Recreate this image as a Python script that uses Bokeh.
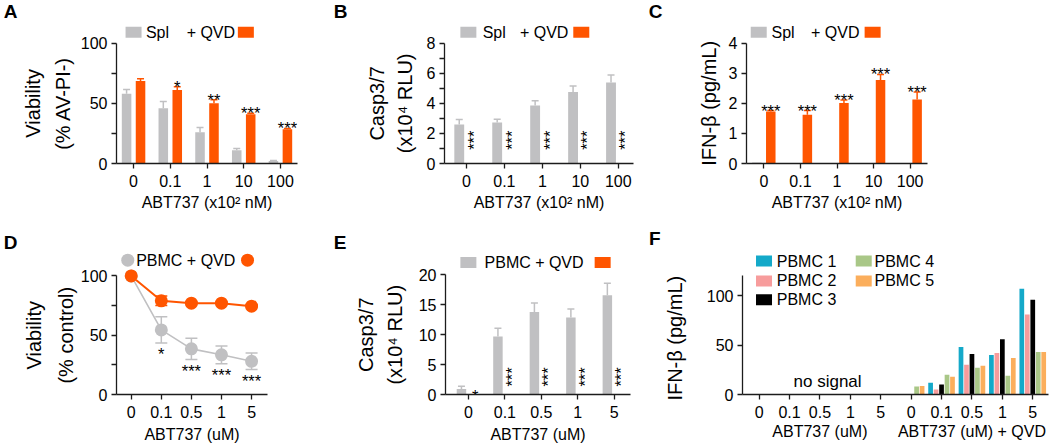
import math
from bokeh.plotting import figure
from bokeh.models import (Range1d, FixedTicker, Whisker, TeeHead, ColumnDataSource, LinearAxis,
                          CustomJSTickFormatter)
from bokeh.layouts import row, column
from bokeh.embed import file_html
from bokeh.resources import INLINE
from bokeh.core.properties import value

FONT = "Liberation Sans"
GRAY = "#C0C0C2"
ORANGE = "#FF5500"
AXIS = "#1c1c1c"

# ---------------- data ----------------
spl_doses = ["0", "0.1", "1", "10", "100"]
pbmc_doses = ["0", "0.1", "0.5", "1", "5"]

# A: splenocyte viability (% AV-PI-)
spl_viability = [58, 46, 26, 11, 2]
spl_viability_err = [3.5, 5.5, 4, 1.5, 0.5]
spl_qvd_viability = [68.5, 61, 50, 41, 28.5]
spl_qvd_viability_err = [2, 2.7, 3, 0.8, 0.6]
stars_a = ["", "*", "**", "***", "***"]

# B: splenocyte Casp3/7 (x10^4 RLU)
spl_casp = [2.6, 2.72, 3.85, 4.75, 5.38]
spl_casp_err = [0.33, 0.22, 0.33, 0.4, 0.5]
spl_qvd_casp = [0.04, 0.04, 0.04, 0.04, 0.04]
stars_b = ["***", "***", "***", "***", "***"]

# C: splenocyte IFN-beta (pg/mL)
spl_ifn = [0.03, 0, 0, 0, 0]
spl_qvd_ifn = [1.73, 1.62, 2.01, 2.78, 2.13]
spl_qvd_ifn_err = [0.03, 0.14, 0.1, 0.18, 0.25]
stars_c = ["***", "***", "***", "***", "***"]

# D: PBMC viability (% control)
pbmc_viability = [100, 54.5, 38.5, 33.5, 28]
pbmc_viability_err = [0, 11, 9, 7.5, 7]
pbmc_qvd_viability = [100, 79, 77, 77, 74.5]
pbmc_qvd_viability_err = [0, 4, 1, 1, 1]
stars_d = ["", "*", "***", "***", "***"]

# E: PBMC Casp3/7 (x10^4 RLU)
pbmc_casp = [0.9, 9.7, 13.8, 12.9, 16.6]
pbmc_casp_err = [0.5, 1.4, 1.5, 1.4, 2.0]
pbmc_qvd_casp = [0.08, 0.08, 0.08, 0.08, 0.08]
stars_e = ["*", "***", "***", "***", "***"]

# F: IFN-beta per donor
f_tick_labels = ["0", "0.1", "0.5", "1", "5", "0", "0.1", "0.5", "1", "5"]
f_groups = ["ABT737 (uM)", "ABT737 (uM) + QVD"]
pbmc_names = ["PBMC 1", "PBMC 2", "PBMC 3", "PBMC 4", "PBMC 5"]
pbmc1_ifn = [0, 0, 0, 0, 0, 0, 12, 48, 40, 107]
pbmc2_ifn = [0, 0, 0, 0, 0, 0, 5, 30, 42, 81]
pbmc3_ifn = [0, 0, 0, 0, 0, 0, 10, 41, 56, 96]
pbmc4_ifn = [0, 0, 0, 0, 0, 8, 20, 27, 19, 43]
pbmc5_ifn = [0, 0, 0, 0, 0, 8.5, 18, 29, 37, 43]
pbmc_colors = ["#14A9C9", "#F79C9C", "#000000", "#A9C787", "#FBAE5C"]


# ---------------- helpers ----------------
class Geo:
    def __init__(self, w, h, fl, fr, ft, fb, tick0, sp, ppu):
        self.w, self.h, self.fl, self.fr, self.ft, self.fb = w, h, fl, fr, ft, fb
        self.tick0, self.sp, self.ppu = tick0, sp, ppu
        self.xs = (fl - tick0) / sp
        self.xe = (fr - tick0) / sp
        self.ye = (fb - ft) / ppu

    def x(self, lx):
        return self.xs + (lx - self.fl) / self.sp

    def y(self, ly):
        return (self.fb - ly) / self.ppu


def make_fig(g):
    p = figure(width=g.w, height=g.h, x_range=Range1d(g.xs, g.xe), y_range=Range1d(0, g.ye),
               output_backend="svg", toolbar_location=None, title=None,
               min_border_left=g.fl, min_border_right=g.w - g.fr,
               min_border_top=g.ft, min_border_bottom=g.h - g.fb)
    p.outline_line_color = None
    p.grid.visible = False
    p.background_fill_color = "white"
    p.border_fill_color = "white"
    return p


def style_axes(p, yticks, yminor, ybound, xlabels, xlabel, xlab_standoff):
    ya = p.yaxis[0]
    xa = p.xaxis[0]
    for ax in (ya, xa):
        ax.axis_line_color = AXIS
        ax.axis_line_width = 1.3
        ax.major_tick_line_color = AXIS
        ax.major_tick_line_width = 1.3
        ax.minor_tick_line_color = AXIS
        ax.minor_tick_line_width = 1.3
        ax.major_tick_in = 0
        ax.major_tick_out = 5
        ax.minor_tick_in = 0
        ax.minor_tick_out = 5
        ax.major_label_text_font = FONT
        ax.major_label_text_font_size = "16px"
        ax.major_label_text_color = "black"
        ax.axis_label_text_font = FONT
        ax.axis_label_text_font_style = "normal"
        ax.axis_label_text_color = "black"
    ya.major_label_standoff = 4
    xa.major_label_standoff = 6
    ya.ticker = FixedTicker(ticks=yticks, minor_ticks=yminor)
    ya.bounds = ybound
    n = len(xlabels)
    xa.ticker = FixedTicker(ticks=list(range(n)), minor_ticks=[])
    xa.major_label_overrides = {i: xlabels[i] for i in range(n)}
    if xlabel:
        xa.axis_label = xlabel
        xa.axis_label_text_font_size = "16px"
        xa.axis_label_standoff = xlab_standoff


def text_axis(p, at, text, standoff, size="20px", bold=False):
    """An unlined left axis with one tick whose label is a title text (y label line or panel letter)."""
    ax = LinearAxis(ticker=FixedTicker(ticks=[at], minor_ticks=[]),
                    formatter=CustomJSTickFormatter(code="return %r;" % text),
                    axis_line_color=None, major_tick_line_color=None, minor_tick_line_color=None,
                    major_tick_out=0, major_tick_in=0, minor_tick_out=0, minor_tick_in=0,
                    major_label_standoff=standoff, major_label_text_font=FONT,
                    major_label_text_font_size=size, major_label_text_color="black")
    if bold:
        ax.major_label_text_font_style = "bold"
    else:
        ax.major_label_orientation = "parallel"
    p.add_layout(ax, "left")


def legend_items(p, g, ly, items):
    y = g.y(ly)
    for kind, lx, val in items:
        if kind == "sq":
            p.rect(x=[g.x(lx)], y=[y], width=16, height=11, width_units="screen",
                   height_units="screen", fill_color=val, line_color=None)
        elif kind == "dot":
            p.scatter(x=[g.x(lx)], y=[y], size=13, fill_color=val, line_color=None)
        else:
            p.text(x=[g.x(lx)], y=[y], text=[val], text_font=value(FONT), text_font_size="16px",
                   text_baseline="middle", text_align="left", text_color="black")


def whiskers(p, xs, lo, hi, color, size, lower=False, level=None):
    keep = [i for i in range(len(xs)) if hi[i] > lo[i]]
    src = ColumnDataSource(dict(x=[xs[i] for i in keep], lo=[lo[i] for i in keep],
                                hi=[hi[i] for i in keep]))
    kw = {}
    if level:
        kw["level"] = level
    w = Whisker(base="x", lower="lo", upper="hi", source=src, dimension="height",
                line_color=color, line_width=1.5,
                upper_head=TeeHead(size=size, line_color=color, line_width=1.5),
                lower_head=TeeHead(size=size, line_color=color, line_width=1.5) if lower else None,
                **kw)
    p.add_layout(w)


OFF = 0.19
BW = 0.26


def bars(p, gray_vals, gray_err, orange_vals, orange_err):
    n = len(gray_vals)
    xg = [i - OFF for i in range(n)]
    xo = [i + OFF for i in range(n)]
    p.vbar(x=xg, top=gray_vals, width=BW, fill_color=GRAY, line_color=None)
    p.vbar(x=xo, top=orange_vals, width=BW, fill_color=ORANGE, line_color=None)
    if gray_err:
        whiskers(p, xg, gray_vals, [v + e for v, e in zip(gray_vals, gray_err)], GRAY, 7)
    if orange_err:
        whiskers(p, xo, orange_vals, [v + e for v, e in zip(orange_vals, orange_err)], ORANGE, 7)
    return xg, xo


STAR_KW = dict(text_font=value(FONT), text_font_size="16.5px", text_color="black")

# ---------------- Row 1 ----------------
# A
gA = Geo(330, 215, 106, 297, 3, 163, 124, 38.75, 1.203)
pA = make_fig(gA)
xg, xo = bars(pA, spl_viability, spl_viability_err, spl_qvd_viability, spl_qvd_viability_err)
pA.text(x=xo, y=[v + e for v, e in zip(spl_qvd_viability, spl_qvd_viability_err)], text=stars_a,
        text_align="center", text_baseline="alphabetic", **STAR_KW)
style_axes(pA, [0, 50, 100], [25, 75], (0, 100), spl_doses, "ABT737 (x10\u00b2 nM)", 4)
text_axis(pA, 50, "(% AV-PI-)", 3)
text_axis(pA, 50, "Viability", 5)
text_axis(pA, gA.y(10.9), "A", 2, size="19px", bold=True)
legend_items(pA, gA, 31.7, [("sq", 124, GRAY), ("t", 137, "Spl"), ("t", 180, "+ QVD"),
                            ("sq", 242.5, ORANGE)])

# B
gB = Geo(315, 215, 105, 303, 3, 163, 128, 39.75, 15.04)
pB = make_fig(gB)
xg, xo = bars(pB, spl_casp, spl_casp_err, spl_qvd_casp, None)
pB.text(x=xo, y=[gB.y(149.3)] * 5, text=stars_b, angle=math.pi / 2, text_align="left",
        text_baseline="middle", **STAR_KW)
style_axes(pB, [0, 2, 4, 6, 8], [1, 3, 5, 7], (0, 8), spl_doses, "ABT737 (x10\u00b2 nM)", 4)
text_axis(pB, 4, "(x10\u2074 RLU)", 7)
text_axis(pB, 4, "Casp3/7", 3)
text_axis(pB, gB.y(10.9), "B", 16, size="19px", bold=True)
legend_items(pB, gB, 31.7, [("sq", 130, GRAY), ("t", 145, "Spl"), ("t", 184, "+ QVD"),
                            ("sq", 248.3, ORANGE)])

# C
gC = Geo(405, 215, 94, 282, 3, 163, 112, 38.0, 30.08)
pC = make_fig(gC)
xg, xo = bars(pC, spl_ifn, None, spl_qvd_ifn, spl_qvd_ifn_err)
pC.text(x=xo, y=[v + e for v, e in zip(spl_qvd_ifn, spl_qvd_ifn_err)], text=stars_c,
        text_align="center", text_baseline="alphabetic", **STAR_KW)
style_axes(pC, [0, 1, 2, 3, 4], [], (0, 4), spl_doses, "ABT737 (x10\u00b2 nM)", 4)
text_axis(pC, 2, "IFN-\u03b2 (pg/mL)", 5)
text_axis(pC, gC.y(10.9), "C", 33, size="19px", bold=True)
legend_items(pC, gC, 31.7, [("sq", 106.7, GRAY), ("t", 120, "Spl"), ("t", 161, "+ QVD"),
                            ("sq", 225, ORANGE)])

# ---------------- Row 2 ----------------
# D
gD = Geo(330, 230, 106, 267, 14, 181, 121.7, 32.08, 1.20)
pD = make_fig(gD)
xi = list(range(len(pbmc_doses)))
whiskers(pD, xi, [v - e for v, e in zip(pbmc_viability, pbmc_viability_err)],
         [v + e for v, e in zip(pbmc_viability, pbmc_viability_err)], GRAY, 12, lower=True,
         level="underlay")
whiskers(pD, xi, [v - e for v, e in zip(pbmc_qvd_viability, pbmc_qvd_viability_err)],
         [v + e for v, e in zip(pbmc_qvd_viability, pbmc_qvd_viability_err)], ORANGE, 12,
         lower=True, level="underlay")
pD.line(xi, pbmc_viability, line_color=GRAY, line_width=1.6)
pD.line(xi, pbmc_qvd_viability, line_color=ORANGE, line_width=2)
pD.scatter(xi, pbmc_viability, size=13, fill_color=GRAY, line_color=None)
pD.scatter(xi, pbmc_qvd_viability, size=13, fill_color=ORANGE, line_color=None)
pD.text(x=xi, y=[v - e for v, e in zip(pbmc_viability, pbmc_viability_err)], text=stars_d,
        text_align="center", text_baseline="top", y_offset=2, **STAR_KW)
style_axes(pD, [0, 50, 100], [25, 75], (0, 100), pbmc_doses, "ABT737 (uM)", 5)
text_axis(pD, 50, "(% control)", 0)
text_axis(pD, 50, "Viability", 7)
text_axis(pD, gD.y(27.2), "D", 3, size="19px", bold=True)
legend_items(pD, gD, 45, [("dot", 118, GRAY), ("t", 127, "PBMC"), ("t", 181, "+ QVD"),
                          ("dot", 245.7, ORANGE)])

# E
gE = Geo(315, 230, 106, 300, 14, 181, 130, 38.25, 6.05)
pE = make_fig(gE)
xg, xo = bars(pE, pbmc_casp, pbmc_casp_err, pbmc_qvd_casp, None)
pE.text(x=xo[:1], y=[0], text=stars_e[:1], text_align="center", text_baseline="alphabetic",
        y_offset=1, **STAR_KW)
pE.text(x=xo[1:], y=[gE.y(173)] * 4, text=stars_e[1:], angle=math.pi / 2, text_align="left",
        text_baseline="middle", **STAR_KW)
style_axes(pE, [0, 5, 10, 15, 20], [], (0, 20), pbmc_doses, "ABT737 (uM)", 5)
text_axis(pE, 10, "(x10\u2074 RLU)", 9)
text_axis(pE, 10, "Casp3/7", 4)
text_axis(pE, gE.y(27.2), "E", 6, size="19px", bold=True)
legend_items(pE, gE, 47.5, [("sq", 130, GRAY), ("t", 147, "PBMC"), ("t", 200, "+ QVD"),
                            ("sq", 270.8, ORANGE)])

# F
gF = Geo(405, 230, 90, 403, 14, 181, 107, 31.1, 1.0)
pF = make_fig(gF)
series = [pbmc1_ifn, pbmc2_ifn, pbmc3_ifn, pbmc4_ifn, pbmc5_ifn]
for k, (vals, col) in enumerate(zip(series, pbmc_colors)):
    xs = [i + (k - 2) * 0.18 for i in range(len(vals))]
    pF.vbar(x=xs, top=vals, width=0.155, fill_color=col, line_color=None)
style_axes(pF, [0, 50, 100], [], (0, 120), f_tick_labels, None, 4)
text_axis(pF, 57, "IFN-\u03b2 (pg/mL)", 17)
text_axis(pF, gF.y(23.4), "F", 1, size="19px", bold=True)
for k, (name, col) in enumerate(zip(pbmc_names, pbmc_colors)):
    colx = 0 if k < 3 else 1
    rowy = [46, 66, 85][k % 3]
    legend_items(pF, gF, rowy, [("sq", [112, 214][colx], col), ("t", [125, 225][colx], name)])
pF.text(x=[gF.x(177)], y=[gF.y(168)], text=["no signal"], text_align="center",
        text_baseline="middle", text_font=value(FONT), text_font_size="17px", text_color="black")
gax = LinearAxis(ticker=FixedTicker(ticks=[2, 7], minor_ticks=[]),
                 major_label_overrides={2: f_groups[0], 7: f_groups[1]},
                 axis_line_color=None, major_tick_line_color=None, minor_tick_line_color=None,
                 major_tick_out=0, major_tick_in=0, minor_tick_out=0, major_label_standoff=2,
                 major_label_text_font=FONT, major_label_text_font_size="16px",
                 major_label_text_color="black")
pF.add_layout(gax, "below")

layout = column(row(pA, pB, pC), row(pD, pE, pF))
open("out.html", "w").write(file_html(layout, INLINE))
